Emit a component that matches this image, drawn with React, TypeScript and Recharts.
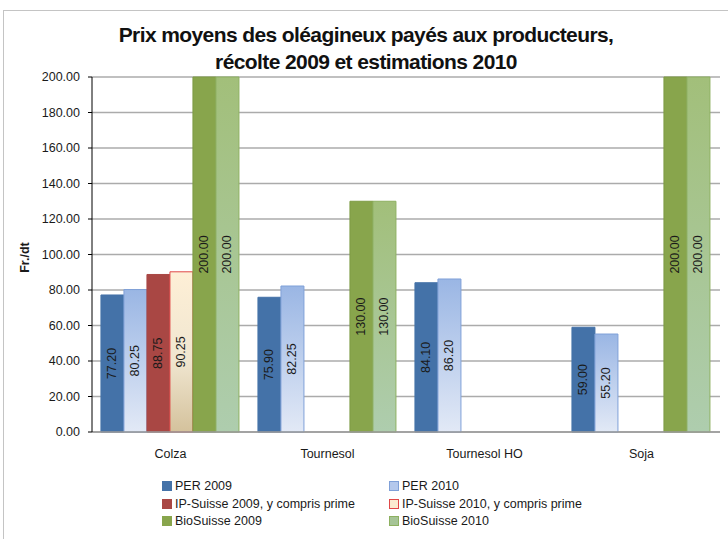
import React from 'react';
import { BarChart, Bar, XAxis, YAxis, CartesianGrid, LabelList } from 'recharts';

const categories = ['Colza', 'Tournesol', 'Tournesol HO', 'Soja'];
const per2009 = [77.2, 75.9, 84.1, 59.0];
const per2010 = [80.25, 82.25, 86.2, 55.2];
const ip2009 = [88.75, null, null, null];
const ip2010 = [90.25, null, null, null];
const bio2009 = [200, 130, null, 200];
const bio2010 = [200, 130, null, 200];
const yTicks = [0, 20, 40, 60, 80, 100, 120, 140, 160, 180, 200];

const data = categories.map((c, i) => ({
  name: c,
  per2009: per2009[i],
  per2010: per2010[i],
  ip2009: ip2009[i],
  ip2010: ip2010[i],
  bio2009: bio2009[i],
  bio2010: bio2010[i],
}));

const series = [
  { key: 'per2009', name: 'PER 2009', fill: '#4472A8', stroke: '#4472A8', sw: '#4472A8', sb: '#4472A8' },
  { key: 'per2010', name: 'PER 2010', fill: 'url(#gPer2010)', stroke: '#7FA0D8', sw: '#B4C8EC', sb: '#7FA0D8' },
  { key: 'ip2009', name: 'IP-Suisse 2009, y compris prime', fill: '#A94744', stroke: '#A94744', sw: '#A94744', sb: '#A94744' },
  { key: 'ip2010', name: 'IP-Suisse 2010, y compris prime', fill: 'url(#gIp2010)', stroke: '#E04848', sw: '#FBEBD0', sb: '#E04848' },
  { key: 'bio2009', name: 'BioSuisse 2009', fill: '#88A54C', stroke: '#7E9C44', sw: '#88A54C', sb: '#88A54C' },
  { key: 'bio2010', name: 'BioSuisse 2010', fill: 'url(#gBio2010)', stroke: '#8DB060', sw: '#A6C496', sb: '#8DB060' },
];

const FONT = '"Liberation Sans", Arial, sans-serif';

const renderValue = (props: any) => {
  const { x, y, width, height, value } = props;
  if (value === null || value === undefined) return null;
  const cx = Number(x) + Number(width) / 2;
  const cy = Number(y) + Number(height) / 2;
  return (
    <text
      x={cx}
      y={cy}
      transform={`rotate(-90, ${cx}, ${cy})`}
      textAnchor="middle"
      dominantBaseline="central"
      fontSize={12.5}
      fontFamily={FONT}
      fill="#1a1a1a"
    >
      {Number(value).toFixed(2)}
    </text>
  );
};

const LegendBlock = () => {
  const rows = [0, 1, 2];
  return (
    <div style={{ position: 'absolute', left: 162, top: 478, width: 480, height: 60, fontFamily: FONT, fontSize: 12.5, color: '#1a1a1a' }}>
      {rows.map((r) =>
        [0, 1].map((c) => {
          const s = series[r * 2 + c];
          return (
            <div
              key={s.key}
              style={{
                position: 'absolute',
                left: c * 227,
                top: r * 17.5,
                display: 'flex',
                alignItems: 'center',
                whiteSpace: 'nowrap',
                height: 16,
              }}
            >
              <span
                style={{
                  display: 'inline-block',
                  width: 8,
                  height: 8,
                  background: s.sw,
                  border: `1px solid ${s.sb}`,
                  marginRight: 3,
                }}
              />
              <span>{s.name}</span>
            </div>
          );
        })
      )}
    </div>
  );
};

const YLabel = (props: any) => {
  const vb = props.viewBox || {};
  const cy = vb.y + vb.height / 2 + 3;
  const cx = 25;
  return (
    <text
      x={cx}
      y={cy}
      transform={`rotate(-90, ${cx}, ${cy})`}
      textAnchor="middle"
      dominantBaseline="central"
      fontSize={12.5}
      fontWeight="bold"
      fontFamily={FONT}
      fill="#1a1a1a"
    >
      Fr./dt
    </text>
  );
};

export default function App() {
  return (
    <div style={{ position: 'absolute', left: 0, top: 0, width: 728, height: 539, background: '#fff', overflow: 'hidden' }}>
      <div
        style={{
          position: 'absolute',
          left: 3,
          top: 10,
          width: 760,
          height: 560,
          border: '1.5px solid #c4c4c4',
        }}
      />
      <div
        style={{
          position: 'absolute',
          left: 0,
          top: 21,
          width: 732,
          textAlign: 'center',
          fontFamily: FONT,
          fontWeight: 'bold',
          fontSize: 21,
          lineHeight: '27px',
          letterSpacing: -0.6,
          color: '#111',
        }}
      >
        Prix moyens des oléagineux payés aux producteurs,
        <br />
        récolte 2009 et estimations 2010
      </div>
      <div style={{ position: 'absolute', left: 0, top: 0 }}>
        <BarChart
          width={728}
          height={539}
          data={data}
          margin={{ top: 77, right: 8, bottom: 77, left: 0 }}
          barCategoryGap="5.7%"
          barGap={0}
        >
          <defs>
            <linearGradient id="gPer2010" x1="0" y1="0" x2="0" y2="1">
              <stop offset="0%" stopColor="#9AB6E4" />
              <stop offset="100%" stopColor="#E2E9F6" />
            </linearGradient>
            <linearGradient id="gIp2010" x1="0" y1="0" x2="0" y2="1">
              <stop offset="0%" stopColor="#FEEFD6" />
              <stop offset="55%" stopColor="#F0E6D0" />
              <stop offset="100%" stopColor="#D4C29C" />
            </linearGradient>
            <linearGradient id="gBio2010" x1="0" y1="0" x2="0" y2="1">
              <stop offset="0%" stopColor="#A2BF7A" />
              <stop offset="100%" stopColor="#AECDAE" />
            </linearGradient>
          </defs>
          <CartesianGrid vertical={false} stroke="#ababab" strokeWidth={1.5} />
          <XAxis
            dataKey="name"
            height={30}
            axisLine={{ stroke: '#9a9a9a', strokeWidth: 1.5 }}
            tickLine={false}
            tickSize={0}
            tickMargin={17}
            tick={{ fontSize: 12.5, fontFamily: FONT, fill: '#1a1a1a' }}
            interval={0}
          />
          <YAxis
            width={92}
            domain={[0, 200]}
            ticks={yTicks}
            interval={0}
            axisLine={{ stroke: '#000', strokeWidth: 1 }}
            tickLine={{ stroke: '#000' }}
            tickSize={4}
            tickMargin={8}
            tickFormatter={(v: number) => v.toFixed(2)}
            tick={{ fontSize: 12.5, fontFamily: FONT, fill: '#1a1a1a' }}
            label={<YLabel />}
          />
          {series.map((s) => (
            <Bar
              key={s.key}
              dataKey={s.key}
              name={s.name}
              fill={s.fill}
              stroke={s.stroke}
              strokeWidth={1}
              isAnimationActive={false}
            >
              <LabelList dataKey={s.key} content={renderValue} />
            </Bar>
          ))}
        </BarChart>
      </div>
      <LegendBlock />
    </div>
  );
}
